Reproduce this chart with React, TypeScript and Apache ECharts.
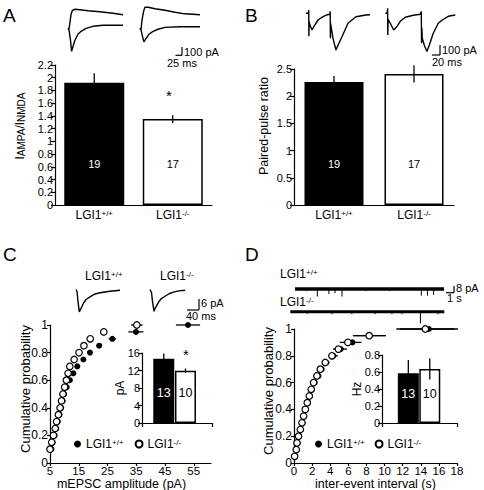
import React, { useEffect, useRef } from "react";
import * as echarts from "echarts";

const FONT = "'Liberation Sans', Arial, Helvetica, sans-serif";

// ---------- data ----------
const groups = ["LGI1+/+", "LGI1-/-"];
const nCellsAB = [19, 17];
const ampaNmda = [1.92, 1.35];
const ampaNmdaErr = [0.15, 0.06];
const pprValues = [2.26, 2.41];
const pprErr = [0.11, 0.16];

const nCellsCD = [13, 10];
const mepscAmp = [14.7, 11.95];
const mepscAmpErr = [1.2, 0.5];
const mepscFreq = [0.586, 0.636];
const mepscFreqErr = [0.154, 0.124];

// cumulative amplitude (C)
const cProb = [0.1, 0.15, 0.2, 0.25, 0.3, 0.35, 0.4, 0.45, 0.5, 0.55, 0.6, 0.65, 0.7, 0.75, 0.8, 0.85, 0.9, 0.95, 1.0];
const cWT = [5.5, 5.9, 6.6, 7.2, 7.7, 8.3, 8.9, 9.4, 9.9, 10.8, 11.9, 13.1, 14.5, 16.6, 18.9, 22.1, 26.7, 34.9, 53.0];
const cWTerr = [0, 0, 0, 0, 0, 0, 0, 0, 0, 0, 0, 0, 0.3, 0.4, 0.6, 1.0, 1.3, 2.6, 4.2];
const cKO = [5.0, 5.6, 6.2, 6.8, 7.3, 7.9, 8.5, 9.0, 9.5, 10.1, 10.7, 11.3, 11.9, 13.4, 15.1, 16.8, 19.0, 23.7, 35.2];
const cKOerr = [0, 0, 0, 0, 0, 0, 0, 0, 0, 0, 0, 0, 0, 0.2, 0.3, 0.4, 0.5, 0.7, 2.0];

// cumulative inter-event interval (D)
const dProb = [0.05, 0.1, 0.15, 0.2, 0.25, 0.3, 0.35, 0.4, 0.45, 0.5, 0.55, 0.6, 0.65, 0.7, 0.75, 0.8, 0.85, 0.9, 0.95, 1.0];
const dWT = [0.1, 0.27, 0.37, 0.55, 0.75, 0.93, 1.12, 1.3, 1.52, 1.75, 1.98, 2.28, 2.7, 3.05, 3.55, 4.35, 5.15, 6.45, 8.35, 14.9];
const dWTerr = [0, 0, 0, 0, 0, 0, 0, 0, 0, 0, 0, 0.15, 0.2, 0.3, 0.4, 0.5, 0.7, 1.0, 1.8, 3.2];
const dKO = [0.07, 0.25, 0.33, 0.5, 0.7, 0.88, 1.06, 1.25, 1.47, 1.69, 1.9, 2.16, 2.53, 2.9, 3.45, 4.19, 4.9, 5.95, 8.3, 14.5];
const dKOerr = [0, 0, 0, 0, 0, 0, 0, 0, 0, 0, 0, 0.15, 0.2, 0.3, 0.35, 0.4, 0.6, 0.9, 1.8, 3.2];

// example traces [ms, pA]
const aWtNmda = [[0, 0], [4, -6], [7, 75], [11, 175], [16, 225], [25, 238], [43, 231], [72, 219], [115, 206], [162, 188], [198, 169]];
const aWtAmpa = [[0, 0], [4, -25], [9, -150], [13, -288], [16, -250], [25, -150], [36, -75], [47, -38], [65, 0], [90, 25], [126, 38], [198, 38]];
const aKoNmda = [[0, 0], [4, -12], [7, 100], [13, 213], [18, 263], [29, 263], [54, 244], [90, 225], [126, 200], [162, 181], [216, 169]];
const aKoAmpa = [[0, 0], [4, -25], [9, -100], [14, -169], [22, -125], [32, -75], [47, -38], [65, -12], [90, 12], [144, 19], [216, 19]];

const bWt = [[0, 0], [6, 0], [6.5, 33], [7, -230], [7.4, -80], [9.6, -120], [14.4, -167], [19.2, -130], [28.8, -67], [40.8, -34], [50.4, -15], [57.6, -10], [58.1, 20], [58.6, -250], [59, -100], [64.8, -250], [72, -367], [76.8, -320], [86.4, -234], [100.8, -100], [120, -34], [144, -17], [153.6, -15]];
const bKo = [[0, 0], [4.8, 0], [5.5, 50], [6, -217], [6.7, -60], [12, -100], [20.2, -167], [26.4, -140], [36, -80], [48, -40], [67.2, -20], [84, -10], [86.4, 17], [87.1, -300], [87.8, -150], [88.8, -250], [93.6, -320], [100, -383], [105.6, -320], [115.2, -200], [127.2, -100], [136.8, -67], [151.2, -30], [168, -17]];

const cWtTrace = [[0, 0], [3.3, -1.1], [6.5, -6.7], [10.7, -12.5], [16.3, -10.6], [23.7, -7.8], [32.5, -5.6], [45.5, -4.1], [61.8, -2.5], [78, -1.8], [110.5, -1], [143, -0.4]];
const cKoTrace = [[0, 0], [4.9, -1.7], [8.1, -6.7], [13, -12.2], [17.9, -10.1], [27, -7.4], [35.8, -5.3], [48.8, -3.8], [61.8, -2.4], [75.7, -1.5], [94.3, -0.8], [113.8, -0.4]];

// spontaneous events [s, pA amplitude]
const dWtLength = 19.35;
const dKoLength = 20;
const dWtEvents = [[1.5, 2.5], [2.9, 9], [4.4, 6], [5.2, 5], [6.1, 9], [9.2, 2.5], [12.3, 2.5], [16.4, 8], [17.2, 8], [18.0, 7]];
const dKoEvents = [[2.2, 2.5], [5.4, 3], [8.0, 3], [11.0, 3], [13.2, 3], [14.5, 3], [16.9, 14], [19.2, 3]];

// ---------- helpers ----------
const supFmt = (s: string) => s.replace(/^LGI1(.*)$/, "LGI1{sup|$1}");
const supRich = { sup: { fontSize: 8, verticalAlign: "top", fontFamily: FONT, color: "#000" } };

const black = { color: "#000" };
const white = { color: "#fff", borderColor: "#000", borderWidth: 1.5 };

const vErr = (params: any, api: any) => {
  const x = api.value(0), y = api.value(1), e = api.value(2);
  const a = api.coord([x, y + e]);
  const b = api.coord([x, y - e]);
  return { type: "line", shape: { x1: a[0], y1: a[1], x2: b[0], y2: b[1] }, style: { stroke: "#000", lineWidth: 1.3 } };
};
const hErr = (params: any, api: any) => {
  const x = api.value(0), y = api.value(1), e = api.value(2);
  const a = api.coord([x - e, y]);
  const b = api.coord([x + e, y]);
  return { type: "line", shape: { x1: a[0], y1: a[1], x2: b[0], y2: b[1] }, style: { stroke: "#000", lineWidth: 1.3 } };
};
const spike = (params: any, api: any) => {
  const t = api.value(0), a = api.value(1);
  const p0 = api.coord([t, 0]);
  const p1 = api.coord([t, -a]);
  return { type: "line", shape: { x1: p0[0], y1: p0[1], x2: p1[0], y2: p1[1] }, style: { stroke: "#000", lineWidth: 1 } };
};

const axisBase = (gridIndex: number, labelSize = 11) => ({
  gridIndex,
  nameMoveOverlap: false,
  axisLine: { show: true, onZero: false, lineStyle: { color: "#000", width: 1.2 } },
  axisTick: { show: true, length: 4, lineStyle: { color: "#000", width: 1.2 } },
  axisLabel: { color: "#000", fontSize: labelSize, fontFamily: FONT, margin: 2 },
  splitLine: { show: false },
  nameTextStyle: { color: "#000", fontSize: 12, fontFamily: FONT },
});

const hidden = (gridIndex: number, min: number, max: number) => ({ type: "value", gridIndex, min, max, show: false });

const catAxis = (gridIndex: number) => {
  const b = axisBase(gridIndex);
  return {
    ...b,
    type: "category",
    data: groups,
    axisTick: { show: false },
    axisLabel: { ...b.axisLabel, fontSize: 12, margin: 4, interval: 0, hideOverlap: false, formatter: supFmt, rich: supRich },
  };
};

const scatterPair = (xi: number, prob: number[], wt: number[], wtErr: number[], ko: number[], koErr: number[]) => [
  {
    type: "custom", xAxisIndex: xi, yAxisIndex: xi, z: 1, renderItem: hErr,
    data: wt.map((x, i) => [x, prob[i], wtErr[i]]).filter((d) => d[2] > 0),
  },
  {
    type: "custom", xAxisIndex: xi, yAxisIndex: xi, z: 1, renderItem: hErr,
    data: ko.map((x, i) => [x, prob[i], koErr[i]]).filter((d) => d[2] > 0),
  },
  {
    type: "scatter", name: "LGI1+/+", xAxisIndex: xi, yAxisIndex: xi, symbol: "circle", symbolSize: 6, z: 3,
    itemStyle: { color: "#000", opacity: 1 }, data: wt.map((x, i) => [x, prob[i]]),
  },
  {
    type: "scatter", name: "LGI1-/-", xAxisIndex: xi, yAxisIndex: xi, symbol: "circle", symbolSize: 6.5, z: 4,
    itemStyle: { color: "#fff", borderColor: "#000", borderWidth: 1.2, opacity: 1 }, data: ko.map((x, i) => [x, prob[i]]),
  },
];

const traceLine = (idx: number, data: number[][], width = 1.4) => ({
  type: "line", xAxisIndex: idx, yAxisIndex: idx, showSymbol: false, symbol: "none",
  lineStyle: { color: "#000", width }, data,
});

const txt = (x: number, y: number, text: string, fontSize = 11, extra: any = {}) => ({
  type: "text", x, y,
  style: { text, fill: "#000", fontSize, fontFamily: FONT, align: "left", verticalAlign: "middle", rich: supRich, ...extra },
});
const ln = (x1: number, y1: number, x2: number, y2: number) => ({
  type: "line", shape: { x1, y1, x2, y2 }, style: { stroke: "#000", lineWidth: 1.2 },
});

export default function App() {
  const ref = useRef<HTMLDivElement>(null);
  useEffect(() => {
    if (!ref.current) return;
    const chart = echarts.init(ref.current, undefined, { renderer: "svg" });

    const g = (left: number, top: number, width: number, height: number) => ({ left, top, width, height, containLabel: false, outerBoundsMode: "none" });
    const grids = [
      g(55, 65, 157, 140), // 0 A
      g(294, 69, 160, 136), // 1 B
      g(50, 325, 161, 138), // 2 C main
      g(142, 353, 70, 70), // 3 C inset
      g(294, 329, 163, 134), // 4 D main
      g(382, 355, 75, 68), // 5 D inset
      g(68, 4.3, 61.1, 52), // 6 A trace wt
      g(140, 4.3, 61.1, 52), // 7 A trace ko
      g(306, 3.3, 70.8, 55), // 8 B trace wt
      g(385.3, 3.3, 70.8, 55), // 9 B trace ko
      g(76, 287.7, 46.2, 26.8), // 10 C trace wt
      g(150, 287.7, 46.2, 26.8), // 11 C trace ko
      g(295, 285.7, 149, 13.3), // 12 D trace wt
      g(290.3, 308.4, 154, 16.7), // 13 D trace ko
    ];

    const xC = axisBase(2, 11.5);
    const xD = axisBase(4, 11.5);
    const yC = axisBase(2, 12);
    const yD = axisBase(4, 12);

    const xAxis = [
      catAxis(0),
      catAxis(1),
      {
        ...xC, type: "value", min: 5, max: 61, interval: 10,
        axisTick: { ...xC.axisTick, length: 3 },
        axisLabel: { ...xC.axisLabel, showMaxLabel: false, margin: 2, lineHeight: 12 },
        name: "mEPSC amplitude (pA)", nameLocation: "middle", nameGap: 15,
        nameTextStyle: { ...xC.nameTextStyle, fontSize: 12.5, lineHeight: 12, padding: [0, 18, 0, 0] },
      },
      { ...axisBase(3), type: "value", min: 0, max: 1, interval: 1, axisLabel: { show: false } },
      {
        ...xD, type: "value", min: 0, max: 18, interval: 2,
        axisTick: { ...xD.axisTick, length: 3 },
        axisLabel: { ...xD.axisLabel, margin: 2, lineHeight: 12 },
        name: "inter-event interval (s)", nameLocation: "middle", nameGap: 15,
        nameTextStyle: { ...xD.nameTextStyle, fontSize: 12.5, lineHeight: 12 },
      },
      { ...axisBase(5), type: "value", min: 0, max: 1, interval: 1, axisLabel: { show: false } },
      hidden(6, 0, 220), hidden(7, 0, 220),
      hidden(8, 0, 170), hidden(9, 0, 170),
      hidden(10, 0, 150), hidden(11, 0, 150),
      hidden(12, 0, dWtLength), hidden(13, 0, dKoLength),
    ];

    const yA = axisBase(0);
    const yB = axisBase(1);
    const yAxis = [
      {
        ...yA, type: "value", min: 0, max: 2.2, interval: 0.2,
        name: "I{sub|AMPA}/I{sub|NMDA}", nameLocation: "middle", nameGap: 29, nameRotate: 90,
        nameTextStyle: { ...yA.nameTextStyle, padding: [0, 0, 0, 18], rich: { sub: { fontSize: 10, fontFamily: FONT, color: "#000", verticalAlign: "bottom" } } },
      },
      {
        ...yB, type: "value", min: 0, max: 2.5, interval: 0.5,
        name: "Paired-pulse ratio", nameLocation: "middle", nameGap: 24, nameRotate: 90,
        nameTextStyle: { ...yB.nameTextStyle, fontSize: 12.5, padding: [0, 0, 0, 22] },
      },
      {
        ...yC, type: "value", min: 0, max: 1, interval: 0.2,
        axisTick: { ...yC.axisTick, length: 3 },
        name: "Cumulative probability", nameLocation: "middle", nameGap: 18, nameRotate: 90,
        nameTextStyle: { ...yC.nameTextStyle, fontSize: 13, padding: [0, 0, 0, 10] },
      },
      {
        ...axisBase(3), type: "value", min: 0, max: 16, interval: 4,
        name: "pA", nameLocation: "middle", nameGap: 16, nameRotate: 90,
      },
      {
        ...yD, type: "value", min: 0, max: 1, interval: 0.2,
        axisTick: { ...yD.axisTick, length: 3 },
        name: "Cumulative probability", nameLocation: "middle", nameGap: 19, nameRotate: 90,
        nameTextStyle: { ...yD.nameTextStyle, fontSize: 13, padding: [0, 0, 0, 10] },
      },
      {
        ...axisBase(5), type: "value", min: 0, max: 0.8, interval: 0.2,
        name: "Hz", nameLocation: "middle", nameGap: 19, nameRotate: 90,
      },
      hidden(6, -350, 300), hidden(7, -350, 300),
      hidden(8, -450, 100), hidden(9, -450, 100),
      hidden(10, -14, 1), hidden(11, -14, 1),
      hidden(12, -12, 4), hidden(13, -16, 4),
    ];

    const barLabel = (distance: number, fontSize: number, counts: number[]) => ({
      show: true, position: "insideBottom", distance, fontSize, fontFamily: FONT,
      formatter: (p: any) => String(counts[p.dataIndex]),
    });

    const mainBars = (idx: number, vals: number[], errs: number[], width: number) => [
      {
        type: "bar", xAxisIndex: idx, yAxisIndex: idx, barWidth: width,
        label: barLabel(36, 11, nCellsAB),
        data: vals.map((v, i) => ({ value: v, itemStyle: i === 0 ? black : white, label: { color: i === 0 ? "#fff" : "#000" } })),
      },
      {
        type: "custom", xAxisIndex: idx, yAxisIndex: idx, z: 5, renderItem: vErr,
        data: vals.map((v, i) => [i, v, errs[i]]),
      },
    ];

    const insetPos = (idx: number) => (idx === 3 ? [0.311, 0.621] : [0.351, 0.637]);
    const insetBars = (idx: number, vals: number[], errs: number[], width: number, dist: number) => {
      const pos = insetPos(idx);
      return [
        {
          type: "bar", xAxisIndex: idx, yAxisIndex: idx, barWidth: width,
          label: barLabel(dist, 12.5, nCellsCD),
          data: vals.map((v, i) => ({ value: [pos[i], v], itemStyle: i === 0 ? black : white, label: { color: i === 0 ? "#fff" : "#000" } })),
        },
        {
          type: "custom", xAxisIndex: idx, yAxisIndex: idx, z: 5, renderItem: vErr,
          data: vals.map((v, i) => [pos[i], v, errs[i]]),
        },
      ];
    };

    const series: any[] = [
      ...mainBars(0, ampaNmda, ampaNmdaErr, 60),
      ...mainBars(1, pprValues, pprErr, 59),
      ...scatterPair(2, cProb, cWT, cWTerr, cKO, cKOerr),
      ...insetBars(3, mepscAmp, mepscAmpErr, 21, 24),
      ...scatterPair(4, dProb, dWT, dWTerr, dKO, dKOerr),
      ...insetBars(5, mepscFreq, mepscFreqErr, 21, 23),
      traceLine(6, aWtNmda), traceLine(6, aWtAmpa),
      traceLine(7, aKoNmda), traceLine(7, aKoAmpa),
      traceLine(8, bWt), traceLine(9, bKo),
      traceLine(10, cWtTrace), traceLine(11, cKoTrace),
      traceLine(12, [[0, 0], [dWtLength, 0]], 3.5),
      { type: "custom", xAxisIndex: 12, yAxisIndex: 12, renderItem: spike, data: dWtEvents },
      traceLine(13, [[0, 0], [dKoLength, 0]], 3.2),
      { type: "custom", xAxisIndex: 13, yAxisIndex: 13, renderItem: spike, data: dKoEvents },
    ];

    const legendBase = (left: number, gap: number) => ({
      data: groups, left, top: 438, itemWidth: 7, itemHeight: 7, itemGap: gap, padding: 0,
      selectedMode: false, formatter: supFmt,
      textStyle: { color: "#000", fontSize: 12, fontFamily: FONT, rich: supRich },
    });

    const graphic = [
      txt(3, 15, "A", 19), txt(245, 15, "B", 19), txt(3, 254, "C", 19), txt(245, 254, "D", 19),
      // A scale bar
      ln(182, 47, 182, 55.3), ln(175.5, 55.3, 182, 55.3),
      txt(184, 51.5, "100 pA"), txt(167, 62.5, "25 ms"),
      // B scale bar
      ln(440, 45, 440, 55), ln(432, 55, 440, 55),
      txt(442, 50, "100 pA"), txt(432, 62, "20 ms"),
      // C scale bar
      ln(199, 299, 199, 310), ln(187, 310, 199, 310),
      txt(201, 303, "6 pA"), txt(186, 316, "40 ms"),
      // D scale bar
      ln(454, 286, 454, 292.7), ln(446, 292.7, 454, 292.7),
      txt(456, 288, "8 pA"), txt(447, 298, "1 s"),
      // trace labels
      txt(85, 276, supFmt("LGI1+/+"), 12), txt(160, 276, supFmt("LGI1-/-"), 12),
      txt(280, 274, supFmt("LGI1+/+"), 12), txt(280, 302, supFmt("LGI1-/-"), 12),
      // significance
      { type: "text", x: 169, y: 95, style: { text: "*", fill: "#000", fontSize: 15, fontFamily: FONT, align: "center", verticalAlign: "middle" } },
      { type: "text", x: 186, y: 354, style: { text: "*", fill: "#000", fontSize: 15, fontFamily: FONT, align: "center", verticalAlign: "middle" } },
    ];

    chart.setOption({
      animation: false,
      backgroundColor: "#fff",
      textStyle: { fontFamily: FONT },
      grid: grids,
      xAxis,
      yAxis,
      legend: [legendBase(74, 11), legendBase(315, 10)],
      series,
      graphic,
    });
    return () => chart.dispose();
  }, []);
  return <div ref={ref} style={{ position: "absolute", left: 0, top: 0, width: 484, height: 490 }} />;
}
